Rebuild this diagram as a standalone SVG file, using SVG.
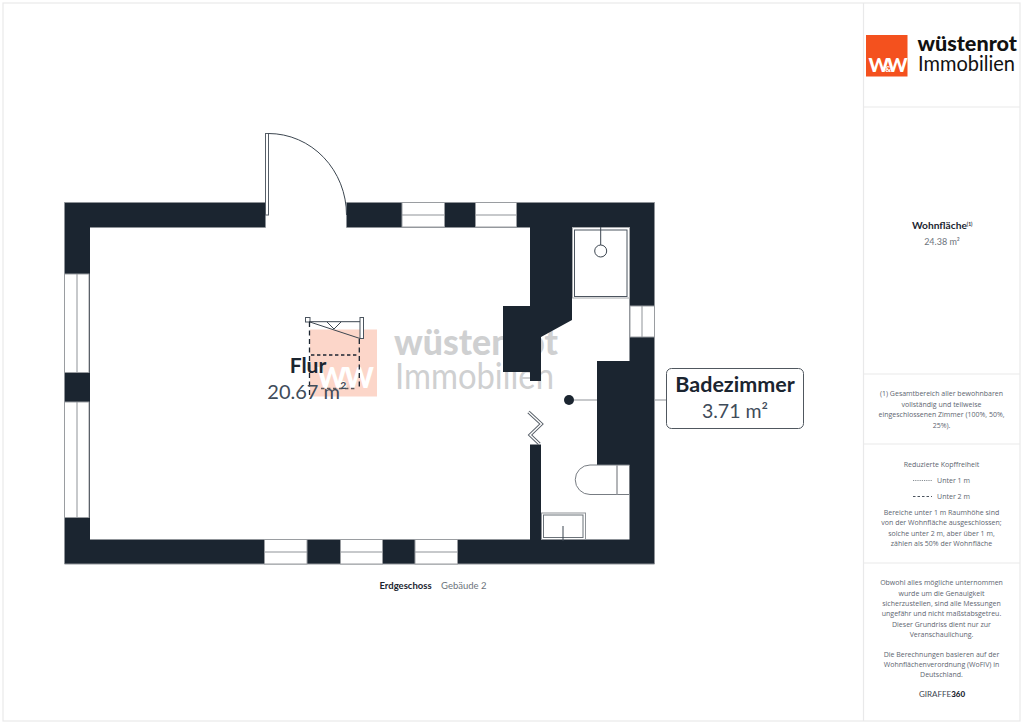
<svg xmlns="http://www.w3.org/2000/svg" width="1024" height="724" viewBox="0 0 1024 724">
<style>
.ln{fill:none;stroke:#8f9398;stroke-width:1}
.dk{fill:none;stroke:#3c4650;stroke-width:1}
.win{fill:#fff;stroke:#9a9da1;stroke-width:1}
.dash{fill:none;stroke:#1b2530;stroke-width:1.3;stroke-dasharray:5 3.5}
.dash2{fill:none;stroke:#1b2530;stroke-width:1.3;stroke-dasharray:3.4 2.6}
.sep{fill:none;stroke:#e9e9ea;stroke-width:1.2}
.note{font-family:"Open Sans",sans-serif;font-size:7px;fill:#5d6570;text-anchor:middle}
.geo{font-family:Lato,sans-serif}
.nm{font-family:Lato,sans-serif;font-weight:700;fill:#1b2530;text-anchor:middle}
.ar{font-family:Lato,sans-serif;fill:#3f4c5a;text-anchor:middle}
</style>
<rect width="1024" height="724" fill="#fff"/>
<g id="panel">
<rect class="sep" x="3" y="3" width="1017" height="718"/>
<path class="sep" d="M863.5 3V721M864 107H1020M864 374H1020M864 444H1020M864 563H1020"/>
</g>
<g id="logo">
<rect x="866" y="35" width="41.5" height="41.5" fill="#f4511e"/>
<text x="868.5" y="71.5" font-family="Lato,sans-serif" font-weight="900" font-size="19.5" fill="#fff">W<tspan font-size="8" dx="-4">&amp;</tspan><tspan dx="-4">W</tspan></text>
<text x="917.5" y="51" font-family="Lato,sans-serif" font-weight="900" font-size="21.5" fill="#111" textLength="99.5" lengthAdjust="spacingAndGlyphs">wüstenrot</text>
<text x="918" y="71" font-family="Lato,sans-serif" font-weight="400" font-size="21.5" fill="#111" textLength="97" lengthAdjust="spacingAndGlyphs">Immobilien</text>
</g>
<g id="watermark">
<rect x="310" y="329.5" width="67" height="67" fill="#fcd6c9"/>
<text x="317" y="387.5" font-family="Lato,sans-serif" font-weight="900" font-size="28" fill="#fff">W<tspan font-size="9" dx="-6">&amp;</tspan><tspan dx="-3">W</tspan></text>
<text x="394" y="355" font-family="Lato,sans-serif" font-weight="900" font-size="36" fill="#cfd0d1" textLength="164" lengthAdjust="spacingAndGlyphs">wüstenrot</text>
<text x="395" y="389" font-family="Lato,sans-serif" font-weight="400" font-size="36" fill="#cfd0d1" textLength="159" lengthAdjust="spacingAndGlyphs">Immobilien</text>
</g>
<g id="walls">
<path fill="#1b2530" fill-rule="evenodd" d="M64.5 202.5H265.5V227.5H346.5V202.5H654.5V564H64.5ZM90 227.5H530V306H503V372H530V381H541V337L572 320V298H629.5V361H597V465H629.5V539.5H541V444.5H530V539.5H90Z"/>
<path class="ln" d="M64.5 202.5H265.5M346.5 202.5H654.5V564H64.5V202.5M90 227.5H265.5M346.5 227.5H530M90 539.5H530"/>
</g>
<g id="windows">
<rect class="win" x="402" y="202.5" width="42.5" height="24.5"/><path class="ln" d="M402 215H444.5"/>
<rect class="win" x="475.5" y="202.5" width="41" height="24.5"/><path class="ln" d="M475.5 215H516.5"/>
<rect class="win" x="64.5" y="274" width="24.5" height="98.5"/><path class="ln" d="M77 274V372.5"/>
<rect class="win" x="64.5" y="402" width="24.5" height="115.5"/><path class="ln" d="M77 402V517.5"/>
<rect class="win" x="264.5" y="539.5" width="42.5" height="24.5"/><path class="ln" d="M264.5 552H307"/>
<rect class="win" x="340.5" y="539.5" width="42" height="24.5"/><path class="ln" d="M340.5 552H382.5"/>
<rect class="win" x="415" y="539.5" width="42.5" height="24.5"/><path class="ln" d="M415 552H457.5"/>
<rect class="win" x="630" y="306" width="24.5" height="31"/><path class="ln" d="M642 306V337"/>
</g>
<g id="door">
<rect x="265.5" y="133.5" width="3" height="81.5" fill="#fff" stroke="#565e67" stroke-width="1"/>
<path class="dk" d="M268.5 133.5A78 81.5 0 0 1 346.5 215"/>
</g>
<g id="shower">
<rect x="572.5" y="227.5" width="57" height="70.5" fill="#fff" stroke="#a6a9ac"/>
<rect x="574.5" y="230" width="52.5" height="66.5" fill="#fff" stroke="#4b545e"/>
<circle cx="600.7" cy="251" r="6" class="dk"/>
<path class="dk" d="M600.7 227V245"/>
</g>
<g id="toilet">
<path fill="#fff" stroke="#777c82" d="M597 465H629.5V494.5H590A14.7 14.7 0 0 1 590 465Z"/>
<path d="M617 465V494.5" stroke="#9a9da1" stroke-width="1.5" fill="none"/>
</g>
<g id="sink">
<rect x="541.5" y="513" width="44" height="26.5" fill="#fff" stroke="#8f9398"/>
<rect x="543.5" y="515" width="39.5" height="22.5" fill="#fff" stroke="#6b7279"/>
<path class="dk" d="M563 526V541"/>
</g>
<g id="folding-door">
<path fill="none" stroke="#555d66" stroke-width="3.2" d="M528.5 412L541.5 424L530 435L539.5 444"/>
<path fill="none" stroke="#fff" stroke-width="1.4" d="M528.5 412L541.5 424L530 435L539.5 444"/>
</g>
<g id="stairs">
<rect x="305.5" y="317.5" width="4.5" height="4.5" fill="#fff" stroke="#4b545e"/>
<rect x="360" y="317.5" width="3.5" height="21" fill="#fff" stroke="#4b545e"/>
<path class="dk" d="M309 321.7H360M309 321.7L360 338.5M327 322L334 329M341 322L334 329"/>
<path class="dash" d="M309.5 322V395M359.3 339V389"/>
<path class="dash2" d="M311 355H359"/>
<path class="dash2" stroke-opacity=".7" d="M321 388.5H356"/>
</g>
<g id="connectors">
<circle cx="569" cy="400" r="5" fill="#1b2530"/>
<path class="ln" d="M574 400H597M654.5 400H666.5"/>
</g>
<g id="room-flur">
<text class="nm" x="308" y="373" font-size="21">Flur</text>
<text class="ar" x="307" y="399" font-size="20">20.67 m²</text>
</g>
<g id="room-badezimmer">
<rect x="666.5" y="368.5" width="137" height="60" rx="5" fill="#fff" stroke="#50575f" stroke-width="1"/>
<text class="nm" x="735" y="392" font-size="21.5" font-weight="900">Badezimmer</text>
<text class="ar" x="735" y="418" font-size="19.5">3.71 m²</text>
</g>
<g id="caption">
<text x="379.5" y="589" class="geo" font-weight="700" font-size="9.5" fill="#1b2530">Erdgeschoss</text>
<text x="441" y="589" class="geo" font-size="9.5" fill="#6d747c">Gebäude 2</text>
</g>
<g id="area">
<text x="912" y="229" class="geo" font-weight="700" font-size="10.2" fill="#1b2530">Wohnfläche<tspan font-size="5" dy="-3.5">(1)</tspan></text>
<text x="942" y="245" text-anchor="middle" class="geo" font-size="9" fill="#6d747c">24.38 m²</text>
</g>
<g id="notes">
<text class="note"><tspan x="941.5" y="396">(1) Gesamtbereich aller bewohnbaren</tspan><tspan x="941.5" y="407">vollständig und teilweise</tspan><tspan x="941.5" y="417">eingeschlossenen Zimmer (100%, 50%,</tspan><tspan x="941.5" y="428">25%).</tspan></text>
<text class="note" x="941.5" y="467">Reduzierte Kopffreiheit</text>
<path d="M913 480.5H932" stroke="#6b7279" stroke-width=".8" stroke-dasharray="1.2 1" fill="none"/>
<text class="note" x="953.5" y="483">Unter 1 m</text>
<path d="M913 496.5H932" stroke="#4b545e" stroke-width="1" stroke-dasharray="2.5 2" fill="none"/>
<text class="note" x="953.5" y="499">Unter 2 m</text>
<text class="note"><tspan x="941.5" y="515">Bereiche unter 1 m Raumhöhe sind</tspan><tspan x="941.5" y="525">von der Wohnfläche ausgeschlossen;</tspan><tspan x="941.5" y="535.5">solche unter 2 m, aber über 1 m,</tspan><tspan x="941.5" y="545.5">zählen als 50% der Wohnfläche</tspan></text>
<text class="note"><tspan x="941.5" y="585">Obwohl alles mögliche unternommen</tspan><tspan x="941.5" y="595.5">wurde um die Genauigkeit</tspan><tspan x="941.5" y="606">sicherzustellen, sind alle Messungen</tspan><tspan x="941.5" y="616">ungefähr und nicht maßstabsgetreu.</tspan><tspan x="941.5" y="626.5">Dieser Grundriss dient nur zur</tspan><tspan x="941.5" y="636.5">Veranschaulichung.</tspan><tspan x="941.5" y="656.5">Die Berechnungen basieren auf der</tspan><tspan x="941.5" y="666.5">Wohnflächenverordnung (WoFlV) in</tspan><tspan x="941.5" y="677">Deutschland.</tspan></text>
<text x="942" y="696.5" text-anchor="middle" font-family="Lato,sans-serif" font-size="8" fill="#3c4650">GIRAFFE<tspan font-weight="900" fill="#1b2530">360</tspan></text>
</g>
</svg>
